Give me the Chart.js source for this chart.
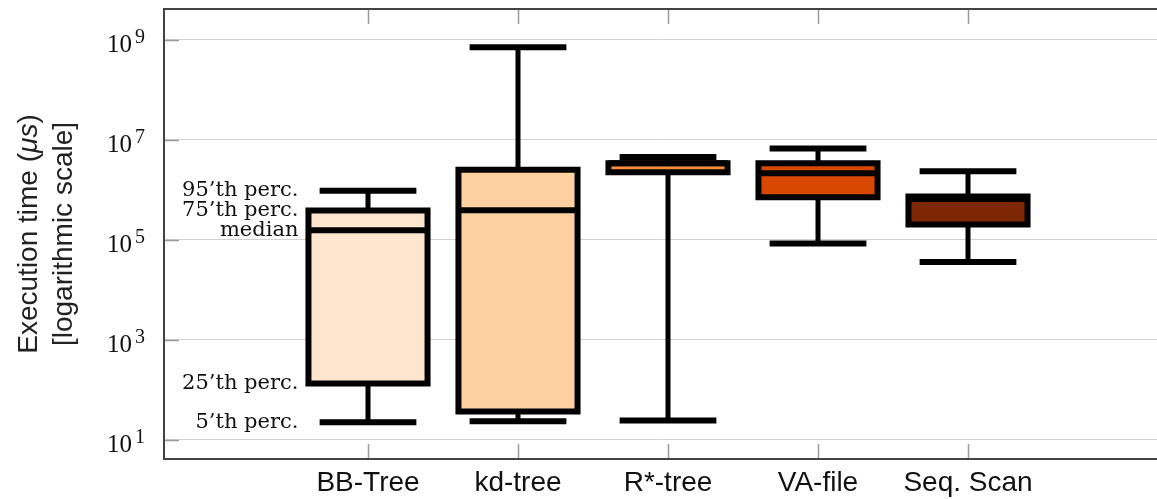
<!DOCTYPE html>
<html><head><meta charset="utf-8">
<script src="https://cdn.jsdelivr.net/npm/chart.js@4"></script>
<style>html,body{margin:0;padding:0;background:#fff;overflow:hidden}</style>
</head><body>
<canvas id="c" width="1157" height="507"></canvas>
<script>
// ---- data ----
const categories = ['BB-Tree', 'kd-tree', 'R*-tree', 'VA-file', 'Seq. Scan'];
const p5     = [22.7, 23.8, 24.5, 8.4e4, 3.6e4];
const q1     = [135, 37, 2.24e6, 7.1e5, 2.01e5];
const median = [1.55e5, 3.9e5, 3.39e6, 2.14e6, 6.5e5];
const q3     = [3.84e5, 2.49e6, 3.39e6, 3.39e6, 7.3e5];
const p95    = [9.5e5, 6.98e8, 4.5e6, 6.67e6, 2.34e6];
const fills  = ['#fee6ce', '#fdd0a2', '#fd8d3c', '#d94801', '#7f2704'];
const yTicks = [1e1, 1e3, 1e5, 1e7, 1e9];
const annotationLabels = ['95\u2019th perc.', '75\u2019th perc.', 'median', '25\u2019th perc.', '5\u2019th perc.'];
const annotationValues = [p95[0], q3[0], median[0], q1[0], p5[0]];

// ---- geometry (in x-axis units) ----
const H_BOX = 0.397, H_CAP = 0.3225;
const gap = i => ({x: i, y: null});
const boxData = categories.map((c, i) => ({x: i, y: [q1[i], q3[i]]}));
const whiskerData = categories.flatMap((c, i) => [{x: i, y: q3[i]}, {x: i, y: p95[i]}, gap(i), {x: i, y: p5[i]}, {x: i, y: q1[i]}, gap(i)]);
const capData = categories.flatMap((c, i) => [{x: i - H_CAP, y: p95[i]}, {x: i + H_CAP, y: p95[i]}, gap(i), {x: i - H_CAP, y: p5[i]}, {x: i + H_CAP, y: p5[i]}, gap(i)]);
const outlineData = categories.flatMap((c, i) => [{x: i - H_BOX, y: q1[i]}, {x: i - H_BOX, y: q3[i]}, {x: i + H_BOX, y: q3[i]}, {x: i + H_BOX, y: q1[i]}, {x: i - H_BOX, y: q1[i]}, gap(i)]);
const medianData = categories.flatMap((c, i) => [{x: i - H_BOX, y: median[i]}, {x: i + H_BOX, y: median[i]}, gap(i)]);

const lineBase = {type: 'line', pointRadius: 0, pointHoverRadius: 0, fill: false, tension: 0, spanGaps: false, borderColor: '#000', borderJoinStyle: 'miter'};

const decor = {
  id: 'decor',
  beforeDatasetsDraw(chart) {
    const {ctx, chartArea: a, scales: {x, y}} = chart;
    ctx.save();
    ctx.strokeStyle = '#9a9a9a';
    ctx.lineWidth = 1.5;
    categories.forEach((c, i) => {
      const px = Math.round(x.getPixelForValue(i)) + 0.5;
      ctx.beginPath();
      ctx.moveTo(px, a.top); ctx.lineTo(px, a.top + 15);
      ctx.moveTo(px, a.bottom); ctx.lineTo(px, a.bottom - 15);
      ctx.stroke();
    });
    yTicks.forEach(v => {
      const py = Math.round(y.getPixelForValue(v)) + 0.5;
      ctx.beginPath(); ctx.moveTo(a.left, py); ctx.lineTo(a.left + 15, py); ctx.stroke();
    });
    ctx.restore();
  },
  afterDatasetsDraw(chart) {
    const {ctx, chartArea: a, scales: {x, y}} = chart;
    ctx.save();
    // frame
    ctx.strokeStyle = '#444';
    ctx.lineWidth = 2;
    ctx.beginPath();
    ctx.moveTo(a.right + 2, a.top); ctx.lineTo(a.left, a.top); ctx.lineTo(a.left, a.bottom); ctx.lineTo(a.right + 2, a.bottom);
    ctx.stroke();
    // y tick labels 10^n
    ctx.fillStyle = '#111';
    yTicks.forEach(v => {
      const py = y.getPixelForValue(v);
      const e = Math.round(Math.log10(v));
      ctx.font = '25px "Liberation Serif"';
      ctx.textAlign = 'right'; ctx.textBaseline = 'alphabetic';
      ctx.fillText('10', a.left - 32, py + 12.5);
      ctx.font = '20px "Liberation Serif"';
      ctx.textAlign = 'left';
      ctx.fillText(String(e), a.left - 29, py + 3.5);
    });
    // annotations for first box
    ctx.font = '21px "DejaVu Serif"';
    ctx.textAlign = 'right'; ctx.textBaseline = 'alphabetic';
    const ax = x.getPixelForValue(-H_BOX) - 10;
    annotationLabels.forEach((t, k) => {
      ctx.fillText(t, ax, y.getPixelForValue(annotationValues[k]) + 5.5);
    });
    // y axis title
    const cy = (a.top + a.bottom) / 2;
    ctx.fillStyle = '#222';
    const drawLine = (parts, bx) => {
      ctx.save();
      ctx.translate(bx, cy);
      ctx.rotate(-Math.PI / 2);
      ctx.textAlign = 'left'; ctx.textBaseline = 'alphabetic';
      let w = 0;
      parts.forEach(p => { ctx.font = p[1]; w += ctx.measureText(p[0]).width; });
      let sx = -w / 2;
      parts.forEach(p => { ctx.font = p[1]; ctx.fillText(p[0], sx, 0); sx += ctx.measureText(p[0]).width; });
      ctx.restore();
    };
    const nf = '28px "Liberation Sans"', itf = 'italic 28px "Liberation Sans"';
    drawLine([['Execution time (', nf], ['\u03bcs', itf], [')', nf]], 37);
    drawLine([['[logarithmic scale]', nf]], 72);
    ctx.restore();
  }
};

new Chart(document.getElementById('c'), {
  type: 'bar',
  data: {
    datasets: [
      {type: 'bar', data: boxData, backgroundColor: fills, borderWidth: 0, barPercentage: 0.793, categoryPercentage: 1, order: 10},
      Object.assign({}, lineBase, {data: whiskerData, borderWidth: 5, borderCapStyle: 'butt', order: 5}),
      Object.assign({}, lineBase, {data: outlineData, borderWidth: 6, borderCapStyle: 'square', order: 3}),
      Object.assign({}, lineBase, {data: medianData, borderWidth: 6, borderCapStyle: 'butt', order: 2}),
      Object.assign({}, lineBase, {data: capData, borderWidth: 6, borderCapStyle: 'butt', order: 1})
    ]
  },
  plugins: [decor],
  options: {
    responsive: false,
    animation: false,
    events: [],
    layout: {padding: {top: 9, left: 0, right: 0, bottom: 0}},
    plugins: {legend: {display: false}, tooltip: {enabled: false}},
    scales: {
      x: {
        type: 'linear', min: -1.36, max: 5.26, offset: false,
        grid: {display: false, drawTicks: false, offset: false},
        border: {display: false},
        afterBuildTicks: s => { s.ticks = categories.map((c, i) => ({value: i})); },
        ticks: {
          callback: v => categories[v] ?? '',
          font: {family: 'Liberation Sans', size: 28},
          color: '#111', padding: 7.2, maxRotation: 0, autoSkip: false
        }
      },
      y: {
        type: 'logarithmic', min: Math.pow(10, 0.62), max: Math.pow(10, 9.61),
        afterBuildTicks: s => { s.ticks = yTicks.map(v => ({value: v})); },
        afterFit: s => { s.width = 164; },
        ticks: {display: false},
        grid: {color: '#d2d2d2', lineWidth: 1, drawTicks: false},
        border: {display: false}
      }
    }
  }
});
</script>
</body></html>
